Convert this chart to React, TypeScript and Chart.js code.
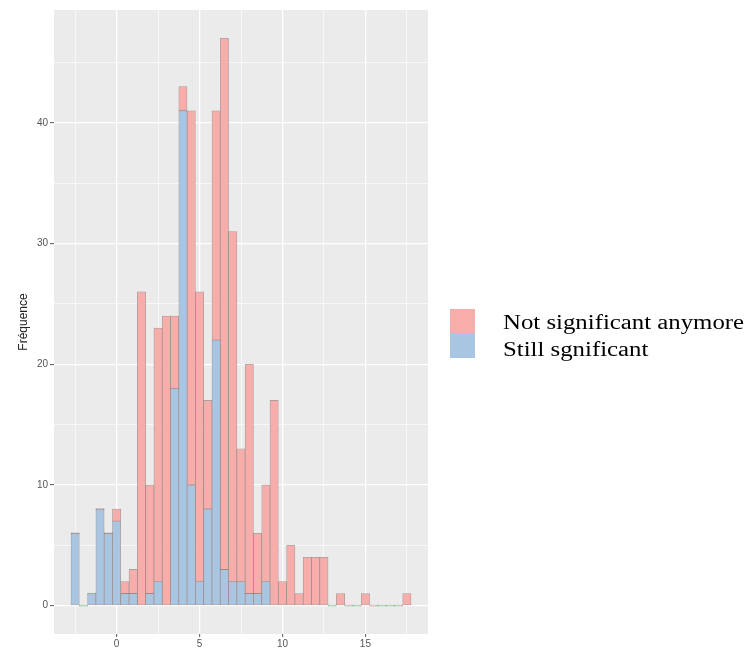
import React, { useEffect, useRef } from "react";
import { Chart, registerables } from "chart.js";

Chart.register(...registerables);

// Histogram bins (centres, bin width 0.5)
const binCenters = [
  -2.5, -2, -1.5, -1, -0.5, 0, 0.5, 1, 1.5, 2,
  2.5, 3, 3.5, 4, 4.5, 5, 5.5, 6, 6.5, 7,
  7.5, 8, 8.5, 9, 9.5, 10, 10.5, 11, 11.5, 12,
  12.5, 13, 13.5, 14, 14.5, 15, 15.5, 16, 16.5, 17,
  17.5,
];

const stillSignificant = [
  6, 0, 1, 8, 6, 7, 1, 1, 0, 1,
  2, 0, 18, 41, 10, 2, 8, 22, 3, 2,
  2, 1, 1, 2, 0, 0, 0, 0, 0, 0,
  0, 0, 0, 0, 0, 0, 0, 0, 0, 0,
  0,
];

const notSignificantAnymore = [
  0, 0, 0, 0, 0, 1, 1, 2, 26, 9,
  21, 24, 6, 2, 31, 24, 9, 19, 44, 29,
  11, 19, 5, 8, 17, 2, 5, 1, 4, 4,
  4, 0, 1, 0, 0, 1, 0, 0, 0, 0,
  1,
];

const xGridValues = [-2.5, 0, 2.5, 5, 7.5, 10, 12.5, 15, 17.5];
const xTickLabels = ["0", "5", "10", "15"];
const yGridValues = [0, 5, 10, 15, 20, 25, 30, 35, 40, 45];
const yTickLabels = ["0", "10", "20", "30", "40"];
const legendLabels = ["Not significant anymore", "Still sgnificant"];
const yTitle = "Fréquence";

const PINK = "rgb(247,174,170)";
const BLUE = "rgb(168,198,226)";
const OUTLINE = "rgba(120,95,95,0.55)";

const panelBg = {
  id: "panelBg",
  beforeDraw(chart: any) {
    const { ctx, chartArea } = chart;
    ctx.save();
    ctx.fillStyle = "#EBEBEB";
    ctx.fillRect(chartArea.left, chartArea.top, chartArea.right - chartArea.left, chartArea.bottom - chartArea.top);
    ctx.restore();
  },
};

export default function App() {
  const ref = useRef<HTMLCanvasElement | null>(null);

  useEffect(() => {
    if (!ref.current) return;
    const isMajorX = (v: number) => xTickLabels.includes(String(v));
    const isMajorY = (v: number) => yTickLabels.includes(String(v));
    const chart = new Chart(ref.current, {
      type: "bar",
      data: {
        datasets: [
          {
            label: legendLabels[1],
            data: binCenters.map((x, i) => ({ x, y: stillSignificant[i] })),
            backgroundColor: BLUE,
            borderColor: OUTLINE,
            borderWidth: 0.8,
            borderSkipped: false,
            barPercentage: 1,
            categoryPercentage: 1,
          },
          {
            label: legendLabels[0],
            data: binCenters.map((x, i) => ({ x, y: notSignificantAnymore[i] })),
            backgroundColor: PINK,
            borderColor: OUTLINE,
            borderWidth: 0.8,
            borderSkipped: false,
            barPercentage: 1,
            categoryPercentage: 1,
            minBarLength: 1,
          },
        ],
      },
      options: {
        responsive: false,
        animation: false,
        devicePixelRatio: 1,
        layout: { padding: { left: 0, top: 10, right: 323, bottom: 0 } },
        plugins: { legend: { display: false }, tooltip: { enabled: false } },
        scales: {
          x: {
            type: "linear",
            min: -3.775,
            max: 18.775,
            stacked: true,
            offset: false,
            afterBuildTicks: (s: any) => {
              s.ticks = xGridValues.map((v) => ({ value: v }));
            },
            afterFit: (s: any) => {
              s.height = 18;
            },
            ticks: {
              autoSkip: false,
              maxRotation: 0,
              padding: 1,
              color: "#555",
              font: { family: "Liberation Sans", size: 10 },
              callback: (v: any) => (isMajorX(Number(v)) ? String(v) : ""),
            },
            grid: {
              offset: false,
              color: "#FFFFFF",
              lineWidth: (c: any) => (isMajorX(c.tick?.value) ? 1.3 : 0.6),
              drawTicks: true,
              tickLength: 3,
              tickColor: (c: any) => (isMajorX(c.tick?.value) ? "#555" : "rgba(0,0,0,0)"),
              tickWidth: 1,
            },
            border: { display: false },
          },
          y: {
            type: "linear",
            min: -2.35,
            max: 49.35,
            stacked: true,
            afterBuildTicks: (s: any) => {
              s.ticks = yGridValues.map((v) => ({ value: v }));
            },
            afterFit: (s: any) => {
              s.width = 54;
            },
            ticks: {
              autoSkip: false,
              padding: 2,
              color: "#555",
              font: { family: "Liberation Sans", size: 10 },
              callback: (v: any) => (isMajorY(Number(v)) ? String(v) : ""),
            },
            grid: {
              color: "#FFFFFF",
              lineWidth: (c: any) => (isMajorY(c.tick?.value) ? 1.3 : 0.6),
              drawTicks: true,
              tickLength: 4,
              tickColor: (c: any) => (isMajorY(c.tick?.value) ? "#555" : "rgba(0,0,0,0)"),
              tickWidth: 1,
            },
            border: { display: false },
            title: {
              display: true,
              text: yTitle,
              color: "#222",
              font: { family: "Liberation Sans", size: 12 },
              padding: { top: 16, bottom: 0 },
            },
          },
        },
      },
      plugins: [panelBg],
    } as any);
    return () => chart.destroy();
  }, []);

  const textStyle: React.CSSProperties = {
    position: "absolute",
    left: 503,
    fontFamily: "'Liberation Serif', 'Times New Roman', serif",
    fontSize: 20,
    lineHeight: "20px",
    color: "#000",
    whiteSpace: "nowrap",
    transform: "scaleX(1.24)",
    transformOrigin: "left center",
  };

  return (
    <div style={{ position: "fixed", left: 0, top: 0, width: 751, height: 652, background: "#fff" }}>
      <canvas ref={ref} width={751} height={652} style={{ display: "block", width: 751, height: 652 }} />
      <div style={{ position: "absolute", left: 450, top: 309, width: 25, height: 24, background: PINK }} />
      <div style={{ position: "absolute", left: 450, top: 333, width: 25, height: 25, background: BLUE }} />
      <div style={{ ...textStyle, top: 311.5 }}>{legendLabels[0]}</div>
      <div style={{ ...textStyle, top: 339 }}>{legendLabels[1]}</div>
    </div>
  );
}
